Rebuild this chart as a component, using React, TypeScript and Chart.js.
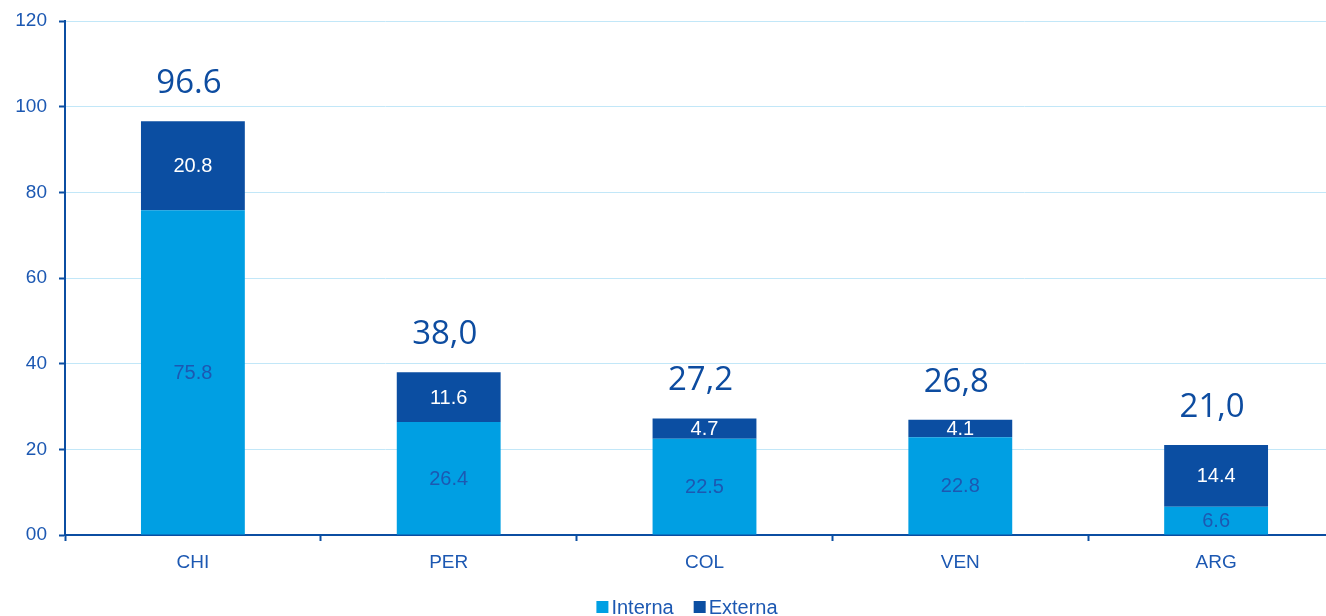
import React, { useEffect, useRef } from "react";
import { Chart, registerables } from "chart.js";

Chart.register(...registerables);

const categories = ["CHI", "PER", "COL", "VEN", "ARG"];
const interna = [75.8, 26.4, 22.5, 22.8, 6.6];
const externa = [20.8, 11.6, 4.7, 4.1, 14.4];
const internaLabels = ["75.8", "26.4", "22.5", "22.8", "6.6"];
const externaLabels = ["20.8", "11.6", "4.7", "4.1", "14.4"];
const totalLabels = ["96.6", "38,0", "27,2", "26,8", "21,0"];
const yTickLabels = ["00", "20", "40", "60", "80", "100", "120"];
const seriesNames = ["Interna", "Externa"];

const COLOR_INTERNA = "#009FE3";
const COLOR_EXTERNA = "#0B4EA2";
const AXIS_COLOR = "#0B4EA2";
const GRID_COLOR = "#C2E7F8";
const TEXT_COLOR = "#1C58B2";
const TOTAL_COLOR = "#0D4CA0";
const FONT = "'Liberation Sans', Arial, sans-serif";

const labelPlugin = {
  id: "barLabels",
  afterDatasetsDraw(chart: any) {
    const ctx = chart.ctx;
    ctx.save();
    ctx.textAlign = "center";
    const segLabels = [internaLabels, externaLabels];
    const segColors = [TEXT_COLOR, "#FFFFFF"];
    for (let d = 0; d < 2; d++) {
      const meta = chart.getDatasetMeta(d);
      meta.data.forEach((el: any, i: number) => {
        const p = el.getProps(["x", "y", "base"], true);
        ctx.font = `20px ${FONT}`;
        ctx.fillStyle = segColors[d];
        ctx.textBaseline = "middle";
        ctx.fillText(segLabels[d][i], p.x, (p.y + p.base) / 2 + 1);
      });
    }
    const top = chart.getDatasetMeta(1);
    top.data.forEach((el: any, i: number) => {
      const p = el.getProps(["x", "y"], true);
      ctx.font = `33px 'Open Sans', 'Noto Sans', sans-serif`;
      ctx.fillStyle = TOTAL_COLOR;
      ctx.textBaseline = "alphabetic";
      ctx.fillText(totalLabels[i], p.x - 4, p.y - 28);
    });
    ctx.restore();
  },
};

const legendPlugin = {
  id: "customLegend",
  afterDraw(chart: any) {
    const ctx = chart.ctx;
    ctx.save();
    ctx.font = `20px ${FONT}`;
    ctx.textBaseline = "middle";
    ctx.textAlign = "left";
    const box = 12;
    const gap = 3;
    const itemGap = 20;
    const colors = [COLOR_INTERNA, COLOR_EXTERNA];
    const widths = seriesNames.map((n) => box + gap + ctx.measureText(n).width);
    const total = widths.reduce((a, b) => a + b, 0) + itemGap * (seriesNames.length - 1);
    let x = 687 - total / 2;
    const cy = 607;
    seriesNames.forEach((n, i) => {
      ctx.fillStyle = colors[i];
      ctx.fillRect(x, cy - box / 2, box, box);
      ctx.fillStyle = TEXT_COLOR;
      ctx.fillText(n, x + box + gap, cy + 1);
      x += widths[i] + itemGap;
    });
    ctx.restore();
  },
};

export default function App() {
  const ref = useRef<HTMLCanvasElement | null>(null);

  useEffect(() => {
    if (!ref.current) return;
    const chart = new Chart(ref.current, {
      type: "bar",
      data: {
        labels: categories,
        datasets: [
          {
            label: seriesNames[0],
            data: interna,
            backgroundColor: COLOR_INTERNA,
            borderWidth: 0,
            barPercentage: 0.406,
            categoryPercentage: 1,
          },
          {
            label: seriesNames[1],
            data: externa,
            backgroundColor: COLOR_EXTERNA,
            borderWidth: 0,
            barPercentage: 0.406,
            categoryPercentage: 1,
          },
        ],
      },
      options: {
        animation: false,
        responsive: false,
        maintainAspectRatio: false,
        layout: { padding: { top: 21, left: 0, right: 0, bottom: 40 } },
        plugins: {
          legend: { display: false },
          tooltip: { enabled: false },
        },
        scales: {
          x: {
            stacked: true,
            afterFit: (s: any) => {
              s.height = 51;
              s.paddingLeft = 0;
              s.paddingRight = 0;
            },
            border: { display: true, color: AXIS_COLOR, width: 2 },
            grid: {
              drawOnChartArea: false,
              drawTicks: true,
              tickLength: 6,
              tickColor: AXIS_COLOR,
              tickWidth: 2,
              offset: true,
            },
            ticks: {
              color: TEXT_COLOR,
              font: { family: FONT, size: 19 },
              padding: 10,
            },
          },
          y: {
            stacked: true,
            min: 0,
            max: 120,
            afterFit: (s: any) => {
              s.width = 65;
              s.paddingTop = 0;
              s.paddingBottom = 0;
            },
            border: { display: true, color: AXIS_COLOR, width: 2 },
            grid: {
              color: GRID_COLOR,
              lineWidth: 1,
              drawTicks: true,
              tickLength: 6,
              tickColor: AXIS_COLOR,
              tickWidth: 2,
            },
            ticks: {
              stepSize: 20,
              color: TEXT_COLOR,
              font: { family: FONT, size: 19 },
              padding: 12,
              callback: (_v: any, i: number) => yTickLabels[i],
            },
          },
        },
      },
      plugins: [labelPlugin, legendPlugin],
    });
    return () => chart.destroy();
  }, []);

  return (
    <div
      style={{
        position: "fixed",
        left: 0,
        top: 0,
        width: 1326,
        height: 616,
        overflow: "hidden",
        background: "#FFFFFF",
      }}
    >
      <canvas ref={ref} width={1344} height={626} style={{ width: 1344, height: 626, display: "block" }} />
    </div>
  );
}
